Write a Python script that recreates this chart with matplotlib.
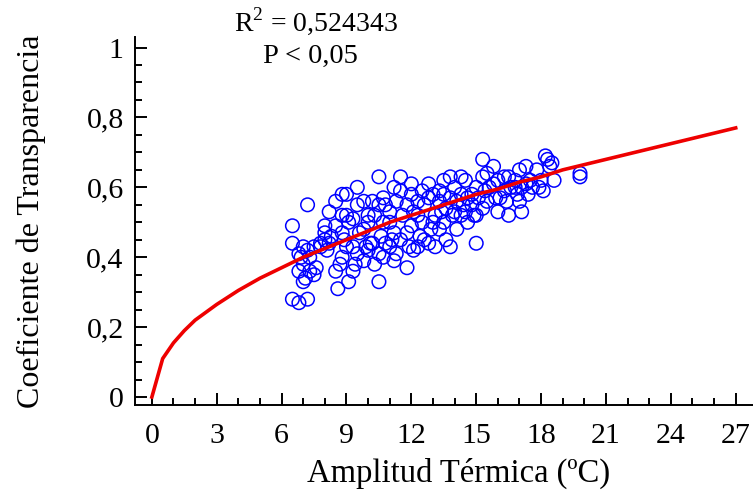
import matplotlib
matplotlib.use("Agg")
import matplotlib.pyplot as plt
from matplotlib.ticker import MultipleLocator, FixedLocator

# observed points (amplitud termica, coeficiente de transparencia)
amp_x = [6.5, 6.5, 6.5, 6.8,
         6.8, 6.8, 6.9,
         7.0, 7.0, 7.0, 7.1,
         7.2, 7.2, 7.3, 7.3, 7.2,
         7.5, 7.5, 7.6,
         7.8, 7.8,
         8.0, 8.0, 8.0, 8.1,
         8.2, 8.2, 8.3,
         8.5, 8.5, 8.5, 8.6, 8.7,
         8.8, 8.8, 8.8, 8.9, 8.8,
         9.0, 9.0, 9.1, 9.0, 9.1,
         9.3, 9.3, 9.4, 9.3,
         9.5, 9.5, 9.6, 9.5,
         9.8, 9.8, 9.9, 9.8,
         10.0, 10.0, 10.1, 10.0,
         10.2, 10.3, 10.2, 10.3,
         10.5, 10.5, 10.6, 10.5, 10.5,
         10.7, 10.8, 10.7, 10.8, 10.7,
         11.0, 11.0, 11.1, 11.0,
         11.2, 11.3, 11.2, 11.3, 11.2,
         11.5, 11.5, 11.6, 11.5,
         11.8, 11.8, 11.9, 11.8,
         12.0, 12.0, 12.1, 12.0, 12.1,
         12.3, 12.3, 12.4, 12.3,
         12.5, 12.6, 12.5, 12.6,
         12.8, 12.8, 12.9, 12.8,
         13.0, 13.1, 13.0, 13.1,
         13.3, 13.3, 13.4, 13.3,
         13.5, 13.5, 13.6, 13.5, 13.6,
         13.8, 13.8, 13.9, 13.8,
         14.0, 14.1, 14.0, 14.1,
         14.3, 14.3, 14.4, 14.3,
         14.5, 14.6, 14.5, 14.6,
         14.8, 14.8, 14.9,
         15.0, 15.1, 15.0, 15.0,
         15.3, 15.3, 15.4, 15.3,
         15.5, 15.6, 15.5,
         15.8, 15.8, 15.9,
         16.0, 16.1, 16.0,
         16.3, 16.3, 16.4,
         16.5, 16.6, 16.5,
         16.8, 16.8, 16.9,
         17.0, 17.1, 17.0, 17.1,
         17.3, 17.3, 17.4,
         17.5, 17.6,
         17.8, 17.9,
         18.0, 18.1,
         18.2, 18.3, 18.4,
         18.5, 18.6,
         19.8, 19.8]

coef_y = [0.28, 0.44, 0.49, 0.27,
          0.36, 0.41, 0.40,
          0.43, 0.38, 0.33, 0.34,
          0.55, 0.28, 0.36, 0.40, 0.42,
          0.43, 0.35, 0.37,
          0.44, 0.43,
          0.47, 0.49, 0.45, 0.42,
          0.53, 0.44, 0.46,
          0.56, 0.49, 0.36, 0.31, 0.38,
          0.58, 0.52, 0.47, 0.45, 0.40,
          0.58, 0.52, 0.50, 0.43, 0.33,
          0.51, 0.43, 0.38, 0.36,
          0.60, 0.55, 0.47, 0.41,
          0.56, 0.48, 0.43, 0.39,
          0.52, 0.50, 0.44, 0.42,
          0.56, 0.52, 0.44, 0.38,
          0.63, 0.55, 0.46, 0.41, 0.33,
          0.57, 0.55, 0.50, 0.44, 0.40,
          0.53, 0.50, 0.45, 0.43,
          0.60, 0.56, 0.47, 0.41, 0.39,
          0.63, 0.59, 0.52, 0.45,
          0.55, 0.47, 0.43, 0.37,
          0.61, 0.58, 0.53, 0.49, 0.42,
          0.56, 0.52, 0.46, 0.43,
          0.59, 0.55, 0.50, 0.45,
          0.61, 0.57, 0.48, 0.44,
          0.58, 0.52, 0.50, 0.43,
          0.59, 0.56, 0.53, 0.48,
          0.62, 0.58, 0.54, 0.50, 0.45,
          0.63, 0.57, 0.52, 0.43,
          0.60, 0.56, 0.53, 0.48,
          0.63, 0.58, 0.55, 0.52,
          0.62, 0.57, 0.53, 0.50,
          0.58, 0.55, 0.52,
          0.60, 0.57, 0.52, 0.44,
          0.68, 0.63, 0.59, 0.54,
          0.64, 0.60, 0.56,
          0.66, 0.61, 0.57,
          0.62, 0.57, 0.53,
          0.63, 0.59, 0.56,
          0.63, 0.60, 0.52,
          0.62, 0.60, 0.58,
          0.65, 0.60, 0.56, 0.53,
          0.66, 0.61, 0.58,
          0.62, 0.60,
          0.65, 0.60,
          0.62, 0.59,
          0.69, 0.68, 0.66,
          0.67, 0.62,
          0.64, 0.63]

# fitted curve
fit_x = [0, 0.5, 1, 1.5, 2, 3, 4, 5, 6, 7, 8, 9, 10, 11, 12, 13, 14,
         15, 16, 17, 18, 19, 20, 21, 22, 23, 24, 25, 26, 27]
fit_y = [0, 0.11, 0.155, 0.19, 0.22, 0.265, 0.305, 0.34, 0.37, 0.40,
         0.425, 0.45, 0.475, 0.50, 0.52, 0.54, 0.56, 0.58, 0.595, 0.615,
         0.63, 0.65, 0.665, 0.68, 0.695, 0.71, 0.725, 0.74, 0.755, 0.77]

x_ticks = [0, 3, 6, 9, 12, 15, 18, 21, 24, 27]
y_ticks = [0, 0.2, 0.4, 0.6, 0.8, 1.0]
y_tick_labels = ["0", "0,2", "0,4", "0,6", "0,8", "1"]

plt.rcParams["font.family"] = ["Liberation Serif", "DejaVu Serif"]
plt.rcParams["mathtext.fontset"] = "custom"
plt.rcParams["mathtext.rm"] = "Liberation Serif"

fig = plt.figure(figsize=(7.53, 4.94), dpi=100)
ax = fig.add_axes([0.179, 0.180, 0.821, 0.745])

ax.scatter(amp_x, coef_y, s=95, facecolors="none", edgecolors="#0000ff",
           linewidths=1.1, zorder=2)
ax.plot(fit_x, fit_y, color="#ee0000", linewidth=2.6, zorder=3)

ax.set_xlim(-0.79, 27.8)
ax.set_ylim(-0.023, 1.03)

ax.spines["top"].set_visible(False)
ax.spines["right"].set_visible(False)
for s in ("left", "bottom"):
    ax.spines[s].set_linewidth(1.4)

ax.xaxis.set_major_locator(FixedLocator(x_ticks))
ax.xaxis.set_minor_locator(MultipleLocator(1))
ax.set_yticks(y_ticks)
ax.set_yticklabels(y_tick_labels)
ax.yaxis.set_minor_locator(MultipleLocator(0.05))
ax.tick_params(which="major", direction="in", length=8.5, width=1.4,
               labelsize=21.5)
ax.tick_params(axis="x", which="major", pad=13)
ax.tick_params(axis="y", which="major", pad=8)
ax.tick_params(which="minor", direction="in", length=5, width=1.4)

ax.set_xlabel("Amplitud Térmica (ºC)", fontsize=23.5, va="top")
ax.xaxis.set_label_coords(0.523, -0.142)
ax.set_ylabel("Coeficiente de Transparencia", fontsize=23, va="center")
ax.yaxis.set_label_coords(-0.168, 0.5)

fig.text(0.42, 0.958, r"R$^2$ = 0,524343", fontsize=20, ha="center", va="center")
fig.text(0.412, 0.886, "P < 0,05", fontsize=20.5, ha="center", va="center")

fig.savefig("out.png", dpi=100)
